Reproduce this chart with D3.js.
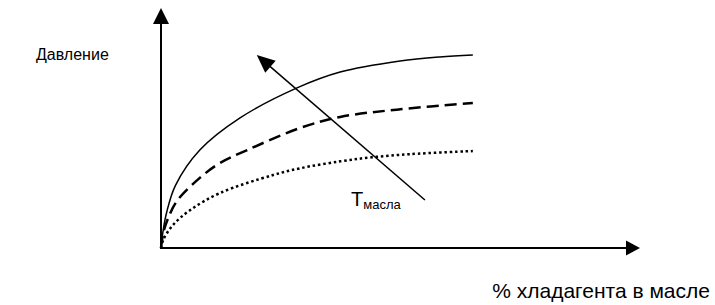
<!DOCTYPE html>
<html>
<head>
<meta charset="utf-8">
<script src="https://cdn.jsdelivr.net/npm/d3@7"></script>
<style>
  body { margin: 0; background: #fff; }
  text { font-family: "Liberation Sans", Arial, sans-serif; fill: #000; }
</style>
</head>
<body>
<script>
// Curves: % refrigerant in oil (x) vs pressure (y), arbitrary units 0..100
var solidX  = [0, 0.5, 1.2, 3.0, 8.1, 16.5, 28.4, 37.4, 49.9, 58.2, 65.1];
var solidY  = [0, 8, 15, 26, 40.8, 54.2, 66.7, 73.3, 77.9, 79.6, 80.4];
var dashedX = [0, 0.5, 1.5, 3.3, 8.1, 12.3, 18, 29, 37.4, 49.9, 65.1];
var dashedY = [0, 6.5, 12.5, 19.5, 29.2, 35.4, 40.8, 50, 54.6, 57.8, 60.4];
var dottedX = [0, 0.5, 2.5, 6.1, 12.3, 23.4, 29, 37.4, 44, 52, 65.1];
var dottedY = [0, 3.5, 9.6, 15.8, 22.9, 30.4, 33.2, 36.1, 37.8, 39.1, 40.4];
// Oil temperature arrow (start, end)
var tempArrowX = [55.1, 20];
var tempArrowY = [20, 80.4];

var width = 715;
var height = 305;
var svg = d3.select("body")
  .append("svg")
  .attr("width", width)
  .attr("height", height);

var xScale = d3.scaleLinear().domain([0, 100]).range([161, 640]);
var yScale = d3.scaleLinear().domain([0, 100]).range([248, 8]);

function zip(xs, ys) {
  return xs.map(function(v, i) { return [v, ys[i]]; });
}

var line = d3.line()
  .x(function(d) { return xScale(d[0]); })
  .y(function(d) { return yScale(d[1]); })
  .curve(d3.curveCatmullRom.alpha(0.5));

// arrowhead polygon pointing from (x0,y0) to tip (x1,y1)
function arrowHead(x0, y0, x1, y1, len, half) {
  var a = Math.atan2(y1 - y0, x1 - x0);
  var bx = x1 - len * Math.cos(a), by = y1 - len * Math.sin(a);
  var nx = -Math.sin(a) * half, ny = Math.cos(a) * half;
  return [[x1, y1], [bx + nx, by + ny], [bx - nx, by - ny]];
}

// Axes
var ox = xScale(0), oy = yScale(0);
svg.append("line")
  .attr("x1", ox).attr("y1", oy)
  .attr("x2", ox).attr("y2", yScale(100) + 14)
  .attr("stroke", "#000").attr("stroke-width", 2);
svg.append("polygon")
  .attr("points", arrowHead(ox, oy, ox, yScale(100), 16, 8).join(" "))
  .attr("fill", "#000");

svg.append("line")
  .attr("x1", ox - 1).attr("y1", oy)
  .attr("x2", xScale(100) - 12).attr("y2", oy)
  .attr("stroke", "#000").attr("stroke-width", 2);
svg.append("polygon")
  .attr("points", arrowHead(ox, oy, xScale(100), oy, 14, 7.5).join(" "))
  .attr("fill", "#000");

// Curves
svg.append("path")
  .attr("d", line(zip(solidX, solidY)))
  .attr("fill", "none").attr("stroke", "#000").attr("stroke-width", 1.5);

svg.append("path")
  .attr("d", line(zip(dashedX, dashedY)))
  .attr("fill", "none").attr("stroke", "#000").attr("stroke-width", 2.5)
  .attr("stroke-dasharray", "12,6");

svg.append("path")
  .attr("d", line(zip(dottedX, dottedY)))
  .attr("fill", "none").attr("stroke", "#000").attr("stroke-width", 2.5)
  .attr("stroke-dasharray", "2.5,2.8");

// Temperature arrow
var ax0 = xScale(tempArrowX[0]), ay0 = yScale(tempArrowY[0]);
var ax1 = xScale(tempArrowX[1]), ay1 = yScale(tempArrowY[1]);
var ang = Math.atan2(ay1 - ay0, ax1 - ax0);
svg.append("line")
  .attr("x1", ax0).attr("y1", ay0)
  .attr("x2", ax1 - 12 * Math.cos(ang)).attr("y2", ay1 - 12 * Math.sin(ang))
  .attr("stroke", "#000").attr("stroke-width", 1.5);
svg.append("polygon")
  .attr("points", arrowHead(ax0, ay0, ax1, ay1, 18, 8).join(" "))
  .attr("fill", "#000");

// Labels
svg.append("text")
  .attr("x", 36).attr("y", 60)
  .style("font-size", "16px")
  .text("Давление");

svg.append("text")
  .attr("x", 710).attr("y", 298)
  .style("text-anchor", "end")
  .style("font-size", "21px")
  .text("% хладагента в масле");

var tLabel = svg.append("text")
  .attr("x", 351).attr("y", 206)
  .style("font-size", "20px");
tLabel.append("tspan").text("T");
tLabel.append("tspan")
  .attr("dy", 3)
  .style("font-size", "13px")
  .text("масла");
</script>
</body>
</html>
